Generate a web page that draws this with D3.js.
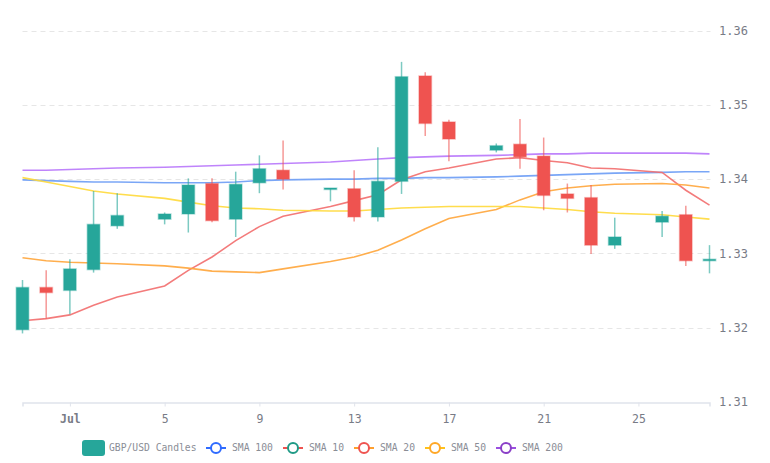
<!DOCTYPE html>
<html>
<head>
<meta charset="utf-8">
<script src="https://cdn.jsdelivr.net/npm/d3@7"></script>
<style>
  body { margin: 0; background: #fff; }
  svg { display: block; font-family: "DejaVu Sans Mono", monospace; }
  .grid line { stroke: #e6e6e6; stroke-dasharray: 5 4; }
  .tick-label { fill: #787b86; font-size: 12px; }
  .legend-text { fill: #8a8d96; font-size: 9.7px; }
</style>
</head>
<body>
<svg id="chart" width="770" height="463"></svg>
<script>
// candles (2020, weekends partly missing)
const dates = ["2020-06-29","2020-06-30","2020-07-01","2020-07-02","2020-07-03",
  "2020-07-05","2020-07-06","2020-07-07","2020-07-08","2020-07-09","2020-07-10",
  "2020-07-12","2020-07-13","2020-07-14","2020-07-15","2020-07-16","2020-07-17",
  "2020-07-19","2020-07-20","2020-07-21","2020-07-22","2020-07-23","2020-07-24",
  "2020-07-26","2020-07-27","2020-07-28"]
const open  = [1.3197,1.3254,1.3250,1.3278,1.3337,1.3346,1.3353,1.3394,1.3346,1.3395,1.3412,
  1.3386,1.3387,1.3349,1.3397,1.3539,1.3477,1.3439,1.3447,1.3431,1.3380,1.3375,1.3311,
  1.3342,1.3352,1.3290]
const high  = [1.3264,1.3277,1.3292,1.3384,1.3381,1.3355,1.3401,1.3401,1.3410,1.3432,1.3452,
  1.3388,1.3412,1.3443,1.3558,1.3544,1.3480,1.3448,1.3481,1.3456,1.3394,1.3392,1.3348,
  1.3357,1.3364,1.3311]
const low   = [1.3192,1.3212,1.3218,1.3274,1.3333,1.3339,1.3328,1.3342,1.3322,1.3381,1.3386,
  1.3370,1.3343,1.3343,1.3380,1.3458,1.3424,1.3436,1.3414,1.3358,1.3355,1.3299,1.3306,
  1.3322,1.3283,1.3273]
const close = [1.3254,1.3247,1.3279,1.3339,1.3351,1.3353,1.3392,1.3344,1.3393,1.3414,1.3400,
  1.3388,1.3349,1.3397,1.3538,1.3475,1.3454,1.3445,1.3430,1.3378,1.3374,1.3311,1.3322,
  1.3350,1.3290,1.3292]

const sma10  = [1.3209,1.3212,1.3217,1.3230,1.3241,1.3256,1.3277,1.3295,1.3317,1.3336,1.3350,
  1.3363,1.3371,1.3379,1.3399,1.3410,1.3415,1.3427,1.3429,1.3425,1.3422,1.3415,1.3414,
  1.3409,1.3385,1.3365]
const sma20  = [1.3294,1.3290,1.3288,1.3287,1.3286,1.3283,1.3280,1.3276,1.3275,1.3274,1.3279,
  1.3289,1.3295,1.3304,1.3318,1.3333,1.3347,1.3359,1.3372,1.3383,1.3388,1.3391,1.3393,
  1.3394,1.3392,1.3388]
const sma50  = [1.3402,1.3396,1.3390,1.3384,1.3380,1.3374,1.3369,1.3364,1.3361,1.3360,1.3358,
  1.3357,1.3357,1.3359,1.3361,1.3362,1.3363,1.3363,1.3363,1.3361,1.3359,1.3356,1.3354,
  1.3352,1.3349,1.3346]
const sma100 = [1.3399,1.3398,1.3397,1.3396,1.3396,1.3395,1.3395,1.3395,1.3396,1.3398,1.3399,
  1.3400,1.3400,1.3401,1.3401,1.3402,1.3402,1.3403,1.3404,1.3405,1.3406,1.3407,1.3408,
  1.3409,1.3410,1.3410]
const sma200 = [1.3412,1.3412,1.3413,1.3414,1.3415,1.3416,1.3417,1.3418,1.3419,1.3420,1.3421,
  1.3423,1.3425,1.3427,1.3429,1.3430,1.3431,1.3432,1.3433,1.3434,1.3434,1.3435,1.3435,
  1.3435,1.3435,1.3434]

const yTicks = [1.31, 1.32, 1.33, 1.34, 1.35, 1.36]
const xTicks = ["2020-07-01","2020-07-05","2020-07-09","2020-07-13","2020-07-17","2020-07-21","2020-07-25"]
const xTickLabels = ["Jul","5","9","13","17","21","25"]

const parse = d3.utcParse("%Y-%m-%d")

const data = dates.map((d, i) => {
  return { date: parse(d), open: open[i], high: high[i], low: low[i], close: close[i] }
})

const smaSeries = [
  { name: "SMA 100", values: sma100, line: "#6b9cf5", icon: "#2f6bff", iconLine: "#2f6bff" },
  { name: "SMA 10",  values: sma10,  line: "#f26d6d", icon: "#1f9a86", iconLine: "#ef5350" },
  { name: "SMA 20",  values: sma20,  line: "#ffa53a", icon: "#ef5350", iconLine: "#ff9f2e" },
  { name: "SMA 50",  values: sma50,  line: "#ffd93a", icon: "#ffa726", iconLine: "#ffc21a" },
  { name: "SMA 200", values: sma200, line: "#b877fb", icon: "#8a3fc7", iconLine: "#9a4fe0" }
]

const svg = d3.select("#chart")

const plotLeft = 22.5, plotRight = 709.5, plotTop = 30.7, plotBottom = 401.7

const x = d3.scaleUtc()
  .domain([parse(dates[0]), parse(dates[dates.length - 1])])
  .range([plotLeft, plotRight])

const y = d3.scaleLinear()
  .domain([1.31, 1.36])
  .range([plotBottom, plotTop])

// grid
svg.append("g")
  .attr("class", "grid")
  .selectAll("line")
  .data(yTicks.slice(1))
  .enter()
  .append("line")
  .attr("x1", plotLeft)
  .attr("x2", plotRight + 1)
  .attr("y1", d => Math.round(y(d)) + 0.5)
  .attr("y2", d => Math.round(y(d)) + 0.5)

// y labels on the right
svg.append("g")
  .selectAll("text")
  .data(yTicks)
  .enter()
  .append("text")
  .attr("class", "tick-label")
  .attr("x", 719)
  .attr("y", d => y(d))
  .attr("dy", "0.35em")
  .text(d => d3.format(".2f")(d))

// x axis
const xAxis = d3.axisBottom(x)
  .tickValues(xTicks.map(parse))
  .tickSize(4)
  .tickFormat((d, i) => xTickLabels[i])

const xg = svg.append("g")
  .attr("transform", `translate(0, ${Math.round(plotBottom) + 0.5})`)
  .call(xAxis)

xg.select(".domain").attr("stroke", "#e0e3eb").attr("stroke-width", 1.5)
xg.selectAll(".tick line").attr("stroke", "#e0e3eb")
xg.selectAll(".tick text")
  .attr("class", "tick-label")
  .attr("dy", "1.15em")
  .style("font-family", "DejaVu Sans Mono, monospace")
  .style("font-size", "11.5px")
  .style("font-weight", (d, i) => i == 0 ? "bold" : "normal")
  .attr("fill", (d, i) => i == 0 ? "#50535e" : "#787b86")

// sma lines
smaSeries.forEach(s => {
  const line = d3.line()
    .x((d, i) => x(data[i].date))
    .y(d => y(d))
  svg.append("path")
    .datum(s.values)
    .attr("d", line)
    .attr("fill", "none")
    .attr("stroke", s.line)
    .attr("stroke-width", 1.6)
    .attr("stroke-opacity", 0.9)
})

// candles
const bodyW = 12.5
const candles = svg.selectAll("g.candle")
  .data(data)
  .enter()
  .append("g")
  .attr("class", "candle")

const col = d => d.close >= d.open ? "#26a69a" : "#ef5350"

candles.append("line")
  .attr("x1", d => x(d.date))
  .attr("x2", d => x(d.date))
  .attr("y1", d => y(d.high))
  .attr("y2", d => y(d.low))
  .attr("stroke", col)
  .attr("stroke-opacity", 0.6)
  .attr("stroke-width", 1.5)

candles.append("rect")
  .attr("x", d => x(d.date) - bodyW / 2)
  .attr("y", d => y(Math.max(d.open, d.close)))
  .attr("width", bodyW)
  .attr("height", d => Math.max(1.5, Math.abs(y(d.open) - y(d.close))))
  .attr("fill", col)
  .attr("stroke", col)
  .attr("stroke-opacity", 0.35)
  .attr("stroke-width", 1.5)

// legend
const legend = svg.append("g").attr("transform", "translate(0, 448)")

legend.append("rect")
  .attr("x", 82)
  .attr("y", -8)
  .attr("width", 23)
  .attr("height", 16)
  .attr("rx", 3)
  .attr("fill", "#26a69a")

legend.append("text")
  .attr("class", "legend-text")
  .attr("x", 109)
  .attr("dy", "0.35em")
  .text("GBP/USD Candles")

const iconX = [206, 283, 354, 425, 496]
smaSeries.forEach((s, i) => {
  const g = legend.append("g").attr("transform", `translate(${iconX[i]}, 0)`)
  g.append("line")
    .attr("x1", 0)
    .attr("x2", 20)
    .attr("stroke", s.iconLine)
    .attr("stroke-width", 2)
  g.append("circle")
    .attr("cx", 10)
    .attr("r", 5)
    .attr("fill", "#fff")
    .attr("stroke", s.icon)
    .attr("stroke-width", 2)
  g.append("text")
    .attr("class", "legend-text")
    .attr("x", 26)
    .attr("dy", "0.35em")
    .text(s.name)
})
</script>
</body>
</html>
